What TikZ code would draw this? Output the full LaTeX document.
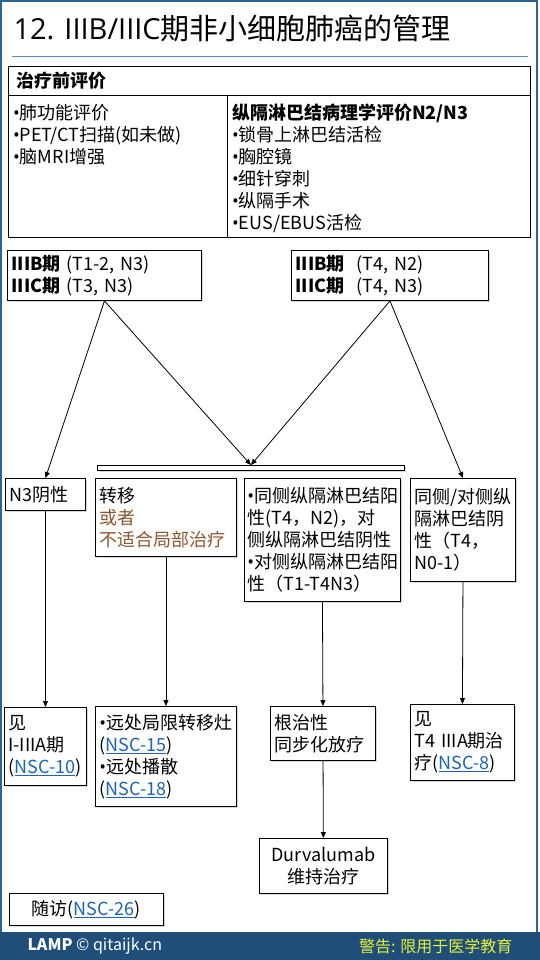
\documentclass[tikz,border=0pt]{standalone}
\usepackage{fontspec}
\setmainfont{Noto Sans CJK SC}
\newfontfamily\latinf{Open Sans}
\usepackage{xcolor}
\definecolor{frameblue}{HTML}{2E6494}
\definecolor{footblue}{HTML}{1F4E79}
\definecolor{ruleblue}{HTML}{5B8DB8}
\definecolor{orbrown}{HTML}{8E562E}
\definecolor{linkblue}{HTML}{1E64B4}
\definecolor{warnyellow}{HTML}{E6F03C}
\usetikzlibrary{positioning,arrows.meta,shadows}
\newcommand{\nsc}[1]{\textcolor{linkblue}{\underline{#1}}}
\newcommand{\bul}{{\latinf •}}

\begin{document}
\begin{tikzpicture}[x=1pt, y=-1pt,
    every node/.style={font=\fontsize{18}{22}\selectfont},
    box/.style={draw, line width=0.9pt, fill=white, anchor=north west,
                align=left, inner xsep=4pt, inner ysep=0pt,
                drop shadow={shadow xshift=2pt, shadow yshift=-2pt, opacity=0.3}},
    cbox/.style={box, align=center},
    cell/.style={anchor=north west, align=left, inner sep=0pt},
    arr/.style={-{Triangle[length=6pt, width=5pt]}, line width=0.8pt}]
  \useasboundingbox (0,0) rectangle (540,960);
  \fill[footblue] (0,932) rectangle (540,960);
  \draw[frameblue, line width=2pt] (1,932) -- (1,1) -- (537,1) -- (537,932);
  \node[anchor=west, font=\fontsize{29}{32}\selectfont] (title) at (10,28)
    {{\latinf 12. IIIB/IIIC}期非小细胞肺癌的管理};
  \draw[ruleblue, line width=1pt] (12,57) -- (528,57);
  \draw[line width=1pt] (8,67) rectangle (530,237);
  \draw[line width=1pt] (8,96) -- (530,96);
  \draw[line width=1pt] (227,96) -- (227,237);
  \node[anchor=west] (pre) at (13,81) {\textbf{治疗前评价}};
  \node[cell] (evalL) at (13,104) {\bul 肺功能评价\\\bul PET/CT扫描(如未做)\\\bul 脑MRI增强};
  \node[cell] (evalR) at (232,104) {\textbf{纵隔淋巴结病理学评价N2/N3}\\\bul 锁骨上淋巴结活检\\\bul 胸腔镜\\\bul 细针穿刺\\\bul 纵隔手术\\\bul EUS/EBUS活检};
  \node[box, text width=186pt, minimum height=50pt] (stA) at (7,250)
    {\textbf{IIIB期} (T1-2, N3)\\\textbf{IIIC期} (T3, N3)};
  \node[box, text width=189pt, minimum height=50pt] (stB) at (291,250)
    {\textbf{IIIB期}~ (T4, N2)\\\textbf{IIIC期}~ (T4, N3)};
  \node[draw, line width=0.9pt, fill=white, anchor=north west, inner sep=0pt,
        minimum width=307pt, minimum height=5pt,
        drop shadow={shadow xshift=2pt, shadow yshift=-2pt, opacity=0.3}] (bar) at (97,465) {};
  \node[box, text width=72pt, minimum height=32pt] (n3neg) at (5,478) {N3阴性};
  \node[box, text width=133pt, minimum height=78pt] (mets) at (95,478)
    {转移\\\textcolor{orbrown}{或者}\\\textcolor{orbrown}{不适合局部治疗}};
  \node[box, text width=150pt, minimum height=123pt, inner xsep=3pt] (ipsi) at (244,478)
    {\bul 同侧纵隔淋巴结阳\\性(T4，N2)，对\\侧纵隔淋巴结阴性\\\bul 对侧纵隔淋巴结阳\\性（T1-T4N3）};
  \node[box, text width=97pt, minimum height=103pt] (contra) at (410,478)
    {同侧/对侧纵\\隔淋巴结阴\\性（T4，\\N0-1）};
  \node[box, text width=74pt, minimum height=78pt] (seeA) at (4,707)
    {见\\I-IIIA期\\(\nsc{NSC-10})};
  \node[box, text width=133pt, minimum height=100pt] (distant) at (95,706)
    {\bul 远处局限转移灶\\(\nsc{NSC-15})\\\bul 远处播散\\(\nsc{NSC-18})};
  \node[box, text width=97pt, minimum height=54pt] (crt) at (270,706)
    {根治性\\同步化放疗};
  \node[box, text width=96pt, minimum height=76pt] (seeT4) at (410,704)
    {见\\T4 IIIA期治\\疗(\nsc{NSC-8})};
  \node[cbox, text width=120pt, minimum height=55pt] (durva) at (259,838)
    {Durvalumab\\维持治疗};
  \node[cbox, text width=146pt, minimum height=32pt] (follow) at (9,893)
    {随访(\nsc{NSC-26})};
  \node[anchor=west, text=white, font=\fontsize{16}{18}\selectfont] (lamp) at (24,946)
    {\textbf{LAMP} © qitaijk.cn};
  \node[anchor=east, text=warnyellow, font=\fontsize{16}{18}\selectfont] (warn) at (516,946)
    {警告: 限用于医学教育};
  \draw[arr] (stA.south) -- (n3neg.north);
  \draw[arr] (stA.south) -- (bar.north);
  \draw[arr] (stB.south) -- (bar.north);
  \draw[arr] (stB.south) -- (contra.north);
  \draw[arr] (n3neg) -- (seeA);
  \draw[arr] (mets) -- (distant);
  \draw[arr] (ipsi.south) -- (crt.north);
  \draw[arr] (contra.south) -- (seeT4.north);
  \draw[arr] (crt) -- (durva);
\end{tikzpicture}
\end{document}
